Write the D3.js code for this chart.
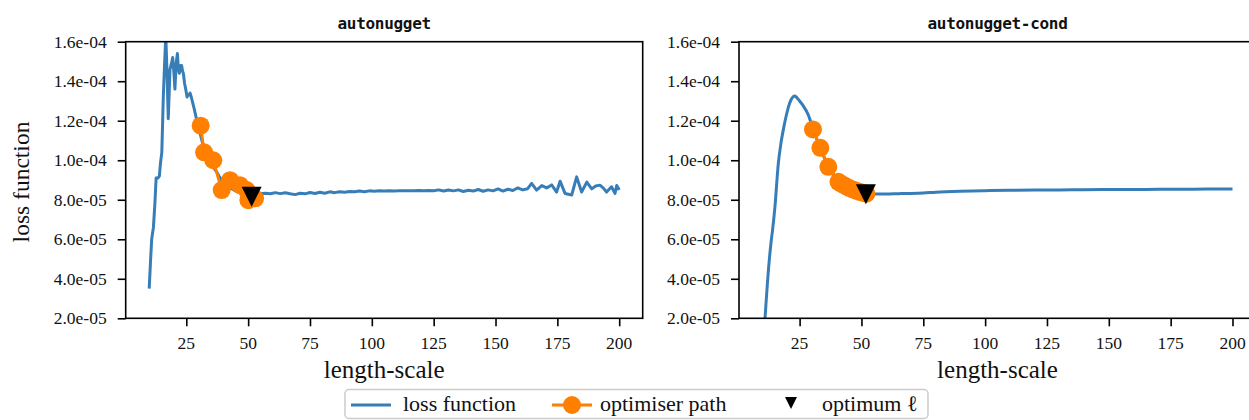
<!DOCTYPE html>
<html>
<head>
<meta charset="utf-8">
<script src="https://cdn.jsdelivr.net/npm/d3@7"></script>
<style>
  body { margin: 0; background: #fff; }
  svg { display: block; }
</style>
</head>
<body>
<svg></svg>
<script>
// values are in units of 1e-5
const SCALE = 1e-5;

const xTicks = [25, 50, 75, 100, 125, 150, 175, 200];
const yTicks = [2, 4, 6, 8, 10, 12, 14, 16];

// autonugget: loss function
const lossAX = [10, 10.5, 11, 11.7, 12.3, 12.8, 13.5, 14.1, 14.6, 15.1, 15.7, 16.2, 16.7, 17.2, 17.7, 18.1, 18.4, 19.0, 19.5, 20.0,
  20.4, 20.9, 21.4, 21.8, 22.2, 22.7, 23.1, 23.5, 23.8, 24.3, 24.9, 25.3, 25.6, 26.1, 26.5, 27.0, 27.6, 28.2, 28.9, 29.6,
  30.5, 31.5, 32.5, 33.5, 34.5, 35.5, 36.5, 37.3, 38.2, 39.3, 40.5, 42, 43.5, 45, 47, 49, 51, 53, 55, 57,
  59, 61, 63, 65, 67, 69, 71, 73, 75, 77, 79, 81, 83, 85, 87, 89, 91, 93, 95, 97,
  99, 101, 103, 105, 107, 109, 111, 113, 115, 117, 119, 121, 123, 125, 127, 129, 131, 133, 135, 137,
  139, 141, 143, 145, 147, 149, 151, 153, 155, 157, 159, 161, 163, 164.6, 166.6, 168.7, 170.7, 172.7, 174.7, 176.1,
  178.1, 180.8, 182.8, 184.8, 186.9, 188.9, 190.5, 192.2, 193.5, 194.9, 196.9, 198.3, 199, 200];
const lossAY = [3.5, 4.8, 6.0, 6.6, 7.8, 9.1, 9.1, 9.2, 9.9, 10.4, 13.2, 14.8, 16.3, 14.5, 12.1, 13.5, 14.6, 14.9, 15.2, 14.4,
  13.6, 14.9, 15.4, 14.6, 14.4, 14.8, 14.8, 14.5, 14.4, 13.9, 13.5, 13.2, 13.3, 13.3, 13.4, 13.2, 12.9, 12.6, 12.2, 11.8,
  11.4, 10.9, 10.5, 10.2, 9.9, 9.7, 9.55, 9.4, 9.2, 9.0, 8.8, 8.65, 8.55, 8.45, 8.4, 8.35, 8.3, 8.3, 8.3, 8.33,
  8.3, 8.36, 8.31, 8.35, 8.3, 8.26, 8.33, 8.3, 8.37, 8.32, 8.38, 8.33, 8.4, 8.36, 8.41, 8.38, 8.42, 8.4, 8.44, 8.41,
  8.45, 8.43, 8.45, 8.44, 8.45, 8.44, 8.46, 8.45, 8.46, 8.45, 8.47, 8.46, 8.47, 8.46, 8.5, 8.44, 8.49, 8.45, 8.5, 8.42,
  8.48, 8.44, 8.52, 8.43, 8.5, 8.45, 8.55, 8.44, 8.53, 8.47, 8.6, 8.5, 8.56, 8.83, 8.49, 8.72, 8.6, 8.75, 8.39, 8.94,
  8.32, 8.24, 9.16, 8.39, 8.89, 8.55, 8.7, 8.74, 8.6, 8.39, 8.66, 8.32, 8.72, 8.49];

// autonugget: optimiser path and optimum
const pathAX = [30.8, 32.2, 35.9, 39.3, 42.7, 46.7, 49.4, 50.1, 52.8];
const pathAY = [11.75, 10.4, 10.0, 8.49, 8.99, 8.74, 8.49, 7.98, 8.07];
const optA = [51.4, 8.15];

// autonugget-cond: loss function
const lossBX = [10, 10.5, 11, 11.5, 12, 12.5, 13, 13.5, 14.1, 15, 16.4, 17.5, 18.5, 19.5, 20.5, 21.5, 22.3, 23.1, 24, 25,
  26.5, 28.5, 30.4, 33.4, 36.6, 40.7, 44, 48, 52, 55, 60, 65, 70, 75, 80, 90, 100, 110, 120, 130,
  140, 150, 160, 170, 180, 190, 200];
const lossBY = [1.2, 1.6, 2.0, 2.9, 3.8, 4.6, 5.3, 5.9, 6.5, 7.6, 9.84, 10.9, 11.6, 12.2, 12.7, 13.05, 13.2, 13.25, 13.15, 13.0,
  12.75, 12.3, 11.6, 10.6, 9.7, 8.9, 8.65, 8.45, 8.3, 8.29, 8.29, 8.31, 8.32, 8.34, 8.38, 8.43, 8.46, 8.48, 8.49, 8.5,
  8.51, 8.52, 8.52, 8.53, 8.53, 8.54, 8.54];

// autonugget-cond: optimiser path and optimum
const pathBX = [30.4, 33.4, 36.6, 40.7, 42, 43.5, 45, 46.5, 48, 49.5, 51, 52];
const pathBY = [11.56, 10.63, 9.67, 8.91, 8.8, 8.7, 8.6, 8.52, 8.45, 8.39, 8.34, 8.31];
const optB = [51.8, 8.28];

const blue = "#377eb8";
const orange = "#ff7f00";
const serif = "'Liberation Serif', 'DejaVu Serif', serif";

const svg = d3.select("svg").attr("width", 1249).attr("height", 420);

function fmt(v) {
    // 1.6e-04 style
    const parts = (v * SCALE).toExponential(1).split("e");
    const e = parseInt(parts[1]);
    const sign = e < 0 ? "-" : "+";
    return parts[0] + "e" + sign + String(Math.abs(e)).padStart(2, "0");
}

function drawPanel(left, title, lx, ly, px, py, opt, smooth, showYLabel, id) {
    const top = 41.7, bottom = 318.3, width = 517;
    const x = d3.scaleLinear().domain([0.5, 209.5]).range([left, left + width]);
    const y = d3.scaleLinear().domain([2, 16]).range([bottom, top]);

    const g = svg.append("g");

    g.append("clipPath").attr("id", "clip" + id)
        .append("rect")
        .attr("x", left).attr("y", top)
        .attr("width", width).attr("height", bottom - top);

    const plot = g.append("g").attr("clip-path", "url(#clip" + id + ")");

    const line = d3.line()
        .x(function(d) { return x(d[0]); })
        .y(function(d) { return y(d[1]); });

    plot.append("path")
        .datum(lx.map(function(v, i) { return [v, ly[i]]; }))
        .attr("d", smooth ? line.curve(d3.curveMonotoneX) : line)
        .attr("fill", "none")
        .attr("stroke", blue)
        .attr("stroke-width", 3)
        .attr("stroke-linejoin", "round");
    line.curve(d3.curveLinear);

    const pts = px.map(function(v, i) { return [v, py[i]]; });
    plot.append("path")
        .datum(pts)
        .attr("d", line)
        .attr("fill", "none")
        .attr("stroke", orange)
        .attr("stroke-width", 3);

    plot.selectAll("circle")
        .data(pts)
        .join("circle")
        .attr("cx", function(d) { return x(d[0]); })
        .attr("cy", function(d) { return y(d[1]); })
        .attr("r", 9)
        .attr("fill", orange);

    // optimum marker: downward triangle
    const s = 10;
    plot.append("path")
        .attr("transform", "translate(" + x(opt[0]) + "," + y(opt[1]) + ")")
        .attr("d", "M" + (-s) + "," + (-s) + "L" + s + "," + (-s) + "L0," + s + "Z")
        .attr("fill", "#000");

    // axes: tick marks from d3, labels drawn as separate text
    const xAxis = g.append("g")
        .attr("transform", "translate(0," + bottom + ")")
        .call(d3.axisBottom(x).tickValues(xTicks).tickSize(8).tickFormat(""));
    const yAxis = g.append("g")
        .attr("transform", "translate(" + left + ",0)")
        .call(d3.axisLeft(y).tickValues(yTicks).tickSize(8).tickFormat(""));

    [xAxis, yAxis].forEach(function(a) {
        a.select(".domain").remove();
        a.selectAll(".tick line").attr("stroke", "#000").attr("stroke-width", 1.6);
    });

    g.append("g").selectAll("text")
        .data(xTicks)
        .join("text")
        .attr("x", function(d) { return x(d); })
        .attr("y", 349)
        .attr("text-anchor", "middle")
        .attr("font-family", serif)
        .attr("font-size", 17.5)
        .attr("fill", "#111")
        .text(function(d) { return d; });

    g.append("g").selectAll("text")
        .data(yTicks)
        .join("text")
        .attr("x", left - 19)
        .attr("y", function(d) { return y(d) + 6; })
        .attr("text-anchor", "end")
        .attr("font-family", serif)
        .attr("font-size", 17.5)
        .attr("fill", "#111")
        .text(fmt);

    // spines
    g.append("rect")
        .attr("x", left).attr("y", top)
        .attr("width", width).attr("height", bottom - top)
        .attr("fill", "none")
        .attr("stroke", "#000")
        .attr("stroke-width", 1.6);

    g.append("text")
        .attr("x", left + width / 2)
        .attr("y", 29)
        .attr("text-anchor", "middle")
        .attr("font-family", "'DejaVu Sans Mono', monospace")
        .attr("font-size", 16)
        .attr("font-weight", "bold")
        .attr("letter-spacing", -0.3)
        .attr("fill", "#111")
        .text(title);

    g.append("text")
        .attr("x", left + width / 2)
        .attr("y", 378)
        .attr("text-anchor", "middle")
        .attr("font-family", serif)
        .attr("font-size", 25)
        .attr("fill", "#111")
        .text("length-scale");

    if (showYLabel) {
        g.append("text")
            .attr("transform", "translate(29," + ((top + bottom) / 2 + 2) + ") rotate(-90)")
            .attr("text-anchor", "middle")
            .attr("font-family", serif)
            .attr("font-size", 23.5)
            .attr("fill", "#111")
            .text("loss function");
    }
}

drawPanel(125.7, "autonugget", lossAX, lossAY, pathAX, pathAY, optA, false, true, "a");
drawPanel(739, "autonugget-cond", lossBX, lossBY, pathBX, pathBY, optB, true, false, "b");

// legend
const legend = svg.append("g");
legend.append("rect")
    .attr("x", 345).attr("y", 389.5)
    .attr("width", 583).attr("height", 29)
    .attr("rx", 4)
    .attr("fill", "#fff")
    .attr("stroke", "#ccc")
    .attr("stroke-width", 1.5);

const legendY = 405;
legend.append("line")
    .attr("x1", 351).attr("x2", 391).attr("y1", legendY).attr("y2", legendY)
    .attr("stroke", blue).attr("stroke-width", 3);
legend.append("line")
    .attr("x1", 552).attr("x2", 592).attr("y1", legendY).attr("y2", legendY)
    .attr("stroke", orange).attr("stroke-width", 3);
legend.append("circle")
    .attr("cx", 572).attr("cy", legendY).attr("r", 9).attr("fill", orange);
legend.append("path")
    .attr("transform", "translate(791," + (legendY - 2) + ")")
    .attr("d", "M-6,-6L6,-6L0,6Z")
    .attr("fill", "#000");

const legendItems = [["loss function", 403], ["optimiser path", 600], ["optimum \u2113", 822]];
legend.selectAll("text")
    .data(legendItems)
    .join("text")
    .attr("x", function(d) { return d[1]; })
    .attr("y", legendY + 6)
    .attr("font-family", serif)
    .attr("font-size", 22)
    .attr("fill", "#111")
    .text(function(d) { return d[0]; });
</script>
</body>
</html>
